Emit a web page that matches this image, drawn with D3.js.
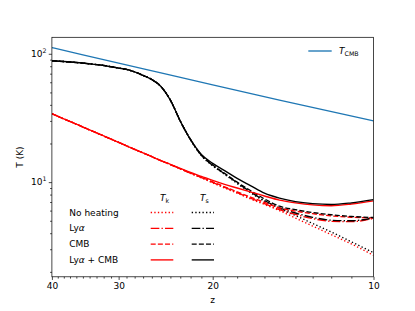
<!DOCTYPE html>
<html>
<head>
<meta charset="utf-8">
<script src="https://cdn.jsdelivr.net/npm/d3@7"></script>
<style>
  body { margin: 0; background: #fff; }
  svg { display: block; font-family: "DejaVu Sans", sans-serif; }
</style>
</head>
<body>
<svg id="chart" width="415" height="311"></svg>
<script>
// redshift grid the curves were read on
const zGrid = [40, 38, 36, 34, 32, 30, 29, 28, 27, 26, 25, 24, 23, 22, 21, 20, 19, 18, 17, 16, 15, 14, 13, 12, 11, 10];

// kinetic temperature T_k
const tkNoHeat = [34.1, 31.1, 28.3, 25.5, 22.9, 20.4, 19.2, 18.0, 16.9, 15.8, 14.7, 13.7, 12.7, 11.7, 10.8, 9.86, 9.0, 8.2, 7.4, 6.7, 6.0, 5.25, 4.55, 3.9, 3.3, 2.69];
const tkLya    = [34.1, 31.1, 28.3, 25.5, 22.9, 20.4, 19.2, 18.0, 16.9, 15.8, 14.7, 13.7, 12.7, 11.7, 10.85, 9.95, 9.1, 8.3, 7.5, 6.8, 6.1, 5.6, 5.2, 4.95, 4.92, 5.22];
const tkCmb    = [34.1, 31.1, 28.3, 25.5, 22.9, 20.4, 19.2, 18.0, 16.9, 15.8, 14.7, 13.7, 12.7, 11.75, 10.9, 10.05, 9.2, 8.4, 7.65, 6.95, 6.3, 5.95, 5.68, 5.46, 5.33, 5.26];
const tkBoth   = [34.1, 31.1, 28.3, 25.5, 22.9, 20.4, 19.2, 18.0, 16.9, 15.8, 14.7, 13.75, 12.8, 11.9, 11.1, 10.3, 9.6, 9.0, 8.4, 7.8, 7.25, 6.9, 6.65, 6.55, 6.75, 7.15];

// spin temperature T_s
const tsNoHeat = [88.2, 87.0, 85.5, 83.5, 81.1, 77.4, 75.5, 72.2, 67.8, 63.0, 55.6, 43.5, 29.9, 21.4, 16.1, 13.4, 11.5, 9.76, 8.29, 7.1, 6.24, 5.49, 4.76, 4.09, 3.43, 2.82];
const tsLya    = [88.2, 87.0, 85.5, 83.5, 81.1, 77.4, 75.5, 72.2, 67.8, 63.0, 55.6, 43.5, 29.9, 21.4, 16.2, 13.5, 11.6, 9.9, 8.4, 7.2, 6.3, 5.75, 5.32, 5.05, 5.0, 5.28];
const tsCmb    = [88.2, 87.0, 85.5, 83.5, 81.1, 77.4, 75.5, 72.2, 67.8, 63.0, 55.6, 43.5, 29.9, 21.4, 16.2, 13.6, 11.7, 10.0, 8.6, 7.4, 6.5, 6.1, 5.8, 5.57, 5.4, 5.3];
const tsBoth   = [88.2, 87.0, 85.5, 83.5, 81.1, 77.4, 75.5, 72.2, 67.8, 63.0, 55.6, 43.5, 29.9, 21.4, 16.4, 14.0, 12.3, 10.7, 9.4, 8.2, 7.5, 7.05, 6.8, 6.7, 6.9, 7.3];

// CMB temperature
const zCmbLine = [40, 35, 30, 25, 20, 15, 10];
const tCmbLine = [111.7, 98.1, 84.5, 70.9, 57.2, 43.6, 30.0];

const scenarioLabels = ["No heating", "Lyα", "CMB", "Lyα + CMB"];
const xTicks = [40, 30, 20, 10];
const yTicks = [10, 100];

const width = 415, height = 311;
const margin = { left: 51.9, right: 41.5, top: 37.3, bottom: 34.2 };

var svg = d3.select("#chart");

var x = d3.scaleLog().domain([40, 10]).range([margin.left, width - margin.right]);
var y = d3.scaleLog().domain([1.83, 134.4]).range([height - margin.bottom, margin.top]);

var dashes = ["1.35,2.23", "8.64,2.16,1.35,2.16", "5,2.16", null];
var tkSeries = [tkNoHeat, tkLya, tkCmb, tkBoth];
var tsSeries = [tsNoHeat, tsLya, tsCmb, tsBoth];

var line = d3.line()
  .x((d) => x(d[0]))
  .y((d) => y(d[1]))
  .curve(d3.curveMonotoneX);

svg.append("defs").append("clipPath").attr("id", "clip")
  .append("rect")
  .attr("x", margin.left).attr("y", margin.top)
  .attr("width", width - margin.left - margin.right)
  .attr("height", height - margin.top - margin.bottom);

var plot = svg.append("g").attr("clip-path", "url(#clip)");

plot.append("path")
  .datum(d3.zip(zCmbLine, tCmbLine))
  .attr("d", line)
  .attr("fill", "none")
  .attr("stroke", "#1f77b4")
  .attr("stroke-width", 1.35);

tkSeries.forEach(function (s, i) {
  plot.append("path")
    .datum(d3.zip(zGrid, s))
    .attr("d", line)
    .attr("fill", "none")
    .attr("stroke", "red")
    .attr("stroke-width", 1.35)
    .attr("stroke-dasharray", dashes[i]);
  plot.append("path")
    .datum(d3.zip(zGrid, tsSeries[i]))
    .attr("d", line)
    .attr("fill", "none")
    .attr("stroke", "black")
    .attr("stroke-width", 1.35)
    .attr("stroke-dasharray", dashes[i]);
});

// axes
var minorX = d3.range(11, 40).filter((v) => v % 10 !== 0);
var xAxis = svg.append("g").attr("transform", "translate(0," + (height - margin.bottom) + ")");
xAxis.call(d3.axisBottom(x).tickValues(xTicks).tickFormat(d3.format("d")).tickSize(3.15).tickPadding(3));
xAxis.append("g").call(d3.axisBottom(x).tickValues(minorX).tickFormat("").tickSize(1.8));

var minorY = d3.range(2, 10).concat(d3.range(20, 100, 10));
var yAxis = svg.append("g").attr("transform", "translate(" + margin.left + ",0)");
yAxis.call(d3.axisLeft(y).tickValues(yTicks).tickFormat("").tickSize(3.15));
yAxis.append("g").call(d3.axisLeft(y).tickValues(minorY).tickFormat("").tickSize(1.8));

svg.selectAll(".domain").remove();
svg.selectAll(".tick line").attr("stroke", "#000").attr("stroke-width", 0.72);
xAxis.selectAll(".tick text").attr("font-size", 9).attr("fill", "#000")
  .attr("font-family", "DejaVu Sans");

// y tick labels as 10^n
yTicks.forEach(function (v) {
  var t = svg.append("text")
    .attr("x", margin.left - 5.5)
    .attr("y", y(v) + 3.3)
    .attr("text-anchor", "end")
    .attr("font-size", 9);
  t.append("tspan").text("10");
  t.append("tspan").attr("font-size", 6.3).attr("dy", -4).text(Math.round(Math.log10(v)));
});

// frame
svg.append("rect")
  .attr("x", margin.left).attr("y", margin.top)
  .attr("width", width - margin.left - margin.right)
  .attr("height", height - margin.top - margin.bottom)
  .attr("fill", "none").attr("stroke", "#000").attr("stroke-width", 0.72);

// axis labels
svg.append("text")
  .attr("transform", "translate(20," + ((margin.top + height - margin.bottom) / 2) + ") rotate(-90)")
  .attr("text-anchor", "middle").attr("dominant-baseline", "central")
  .attr("font-size", 9).text("T (K)");
svg.append("text")
  .attr("x", (margin.left + width - margin.right) / 2).attr("y", 300)
  .attr("text-anchor", "middle").attr("dominant-baseline", "central")
  .attr("font-size", 9).text("z");

// T_CMB legend
svg.append("line")
  .attr("x1", 308.3).attr("x2", 331.7).attr("y1", 51).attr("y2", 51)
  .attr("stroke", "#1f77b4").attr("stroke-width", 1.35);
var lc = svg.append("text").attr("x", 339).attr("y", 54.3).attr("font-size", 9);
lc.append("tspan").attr("font-style", "italic").text("T");
lc.append("tspan").attr("font-size", 6.3).attr("dy", 1.5).text("CMB");

// scenario legend
var headers = [["k", 160], ["s", 200]];
headers.forEach(function (h) {
  var t = svg.append("text").attr("x", h[1]).attr("y", 201).attr("font-size", 9);
  t.append("tspan").attr("font-style", "italic").text("T");
  t.append("tspan").attr("font-size", 6.3).attr("dy", 1.5).text(h[0]);
});

scenarioLabels.forEach(function (lab, i) {
  var yy = 212.5 + i * 15.8;
  var t = svg.append("text").attr("x", 69.3).attr("y", yy).attr("dominant-baseline", "central").attr("font-size", 9);
  if (lab.indexOf("α") >= 0) {
    t.append("tspan").text("Ly");
    t.append("tspan").attr("font-style", "italic").text("α");
    t.append("tspan").text(lab.slice(3));
  } else {
    t.text(lab);
  }
  svg.append("line")
    .attr("x1", 150.7).attr("x2", 173.3).attr("y1", yy).attr("y2", yy)
    .attr("stroke", "red").attr("stroke-width", 1.35).attr("stroke-dasharray", dashes[i]);
  svg.append("line")
    .attr("x1", 191.7).attr("x2", 214).attr("y1", yy).attr("y2", yy)
    .attr("stroke", "black").attr("stroke-width", 1.35).attr("stroke-dasharray", dashes[i]);
});
</script>
</body>
</html>
